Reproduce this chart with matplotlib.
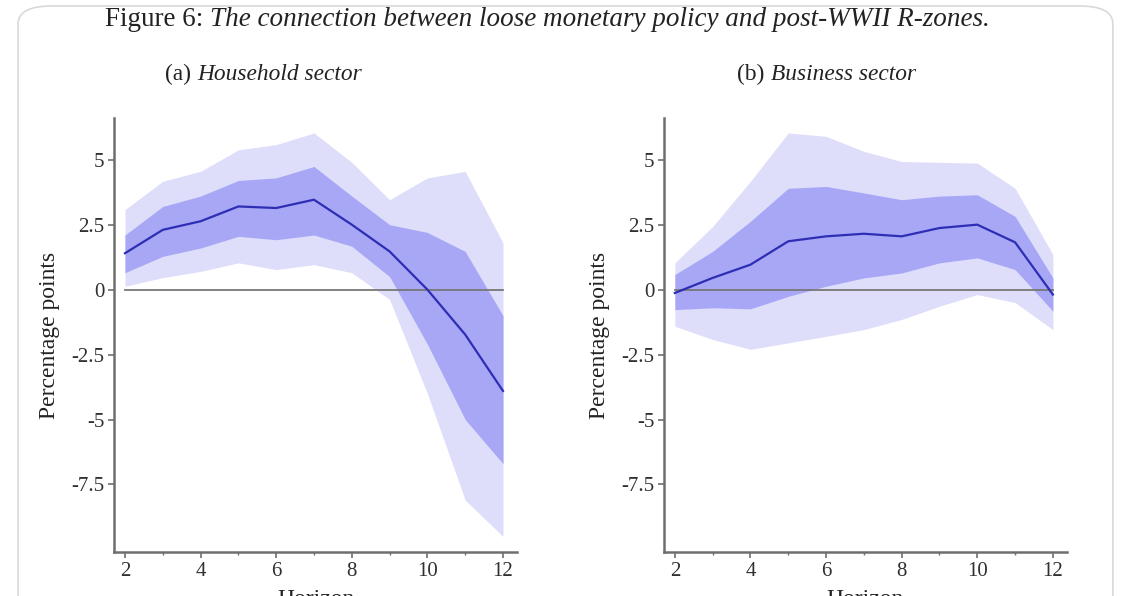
import matplotlib.pyplot as plt
from matplotlib.patches import FancyBboxPatch

# horizon (quarters / years after the shock)
horizon = [2, 3, 4, 5, 6, 7, 8, 9, 10, 11, 12]

# (a) household sector
hh_line = [1.4, 2.3, 2.63, 3.2, 3.14, 3.46, 2.5, 1.47, 0.0, -1.73, -3.9]
hh_inner_hi = [2.1, 3.2, 3.6, 4.2, 4.3, 4.74, 3.6, 2.5, 2.2, 1.47, -1.0]
hh_inner_lo = [0.65, 1.28, 1.6, 2.05, 1.92, 2.1, 1.67, 0.5, -2.1, -5.0, -6.7]
hh_outer_hi = [3.08, 4.17, 4.55, 5.38, 5.58, 6.03, 4.9, 3.46, 4.3, 4.55, 1.8]
hh_outer_lo = [0.13, 0.46, 0.7, 1.03, 0.77, 0.96, 0.65, -0.38, -4.0, -8.1, -9.5]

# (b) business sector
bs_line = [-0.13, 0.45, 0.96, 1.86, 2.05, 2.15, 2.05, 2.37, 2.5, 1.82, -0.19]
bs_inner_hi = [0.58, 1.47, 2.63, 3.9, 3.97, 3.72, 3.46, 3.6, 3.65, 2.82, 0.45]
bs_inner_lo = [-0.77, -0.7, -0.74, -0.26, 0.13, 0.45, 0.64, 1.03, 1.22, 0.77, -0.83]
bs_outer_hi = [1.03, 2.43, 4.17, 6.03, 5.9, 5.32, 4.93, 4.9, 4.87, 3.9, 1.35]
bs_outer_lo = [-1.41, -1.92, -2.3, -2.05, -1.8, -1.54, -1.15, -0.64, -0.19, -0.5, -1.54]

y_ticks = [5, 2.5, 0, -2.5, -5, -7.5]
y_tick_labels = ["5", "2.5", "0", "-2.5", "-5", "-7.5"]
x_ticks = [2, 4, 6, 8, 10, 12]

SERIF = ["Liberation Serif", "DejaVu Serif"]
LINE_COLOR = "#2e2eb4"
INNER_COLOR = "#a7a7f6"
OUTER_COLOR = "#dedefb"
AXIS_COLOR = "#6e6e6e"
TEXT_COLOR = "#222222"


def draw_panel(ax, line, inner_lo, inner_hi, outer_lo, outer_hi):
    ax.fill_between(horizon, outer_lo, outer_hi, color=OUTER_COLOR, lw=0)
    ax.fill_between(horizon, inner_lo, inner_hi, color=INNER_COLOR, lw=0)
    ax.plot([horizon[0], horizon[-1]], [0, 0], color="#777777", lw=1.3)
    ax.plot(horizon, line, color=LINE_COLOR, lw=1.6)

    ax.set_xlim(1.71, 12.37)
    ax.set_ylim(-10.1, 6.6)
    ax.set_yticks(y_ticks)
    ax.set_yticklabels(y_tick_labels)
    ax.set_xticks(x_ticks)
    ax.set_xticks(range(3, 12, 2), minor=True)
    for side in ["top", "right"]:
        ax.spines[side].set_visible(False)
    for side in ["left", "bottom"]:
        ax.spines[side].set_color(AXIS_COLOR)
        ax.spines[side].set_linewidth(1.8)
    ax.tick_params(which="major", length=4, width=1.2, color=AXIS_COLOR,
                   labelsize=15, labelcolor="#303030", pad=3)
    ax.tick_params(which="minor", length=2.5, width=1.0, color=AXIS_COLOR)
    for lab in ax.get_xticklabels() + ax.get_yticklabels():
        lab.set_family(SERIF)
    ax.set_ylabel("Percentage points", fontsize=17, family=SERIF,
                  color=TEXT_COLOR, labelpad=8)
    # the reference crop cuts this label off at the bottom edge
    ax.set_xlabel("Horizon", fontsize=17, family=SERIF, color=TEXT_COLOR,
                  labelpad=6)


fig = plt.figure(figsize=(11.31, 5.96), dpi=100)

# faint screenshot frame
frame = FancyBboxPatch((0.016, -0.05), 0.968, 1.04,
                       boxstyle="round,pad=0,rounding_size=0.03",
                       transform=fig.transFigure, fc="none",
                       ec="#d9d9d9", lw=1.2, zorder=-5)
fig.patches.append(frame)

ax1 = fig.add_axes([0.1008, 0.0738, 0.3563, 0.728])
ax2 = fig.add_axes([0.5870, 0.0738, 0.3563, 0.728])

draw_panel(ax1, hh_line, hh_inner_lo, hh_inner_hi, hh_outer_lo, hh_outer_hi)
draw_panel(ax2, bs_line, bs_inner_lo, bs_inner_hi, bs_outer_lo, bs_outer_hi)

# titles: regular prefix followed by italic text
title_parts = [
    (0.0925, 0.956, "Figure 6: ", "The connection between loose monetary policy and post-WWII R-zones.", 19.5),
    (0.146, 0.866, "(a) ", "Household sector", 16.8),
    (0.652, 0.866, "(b) ", "Business sector", 16.8),
]
for x, y, plain, italic, size in title_parts:
    t = fig.text(x, y, plain, fontsize=size, family=SERIF, ha="left",
                 va="baseline", color=TEXT_COLOR)
    fig.canvas.draw()
    bb = t.get_window_extent()
    fig.text(bb.x1 / fig.bbox.width, y, italic, fontsize=size, family=SERIF,
             style="italic", ha="left", va="baseline", color=TEXT_COLOR)

fig.savefig("out.png", dpi=100)
